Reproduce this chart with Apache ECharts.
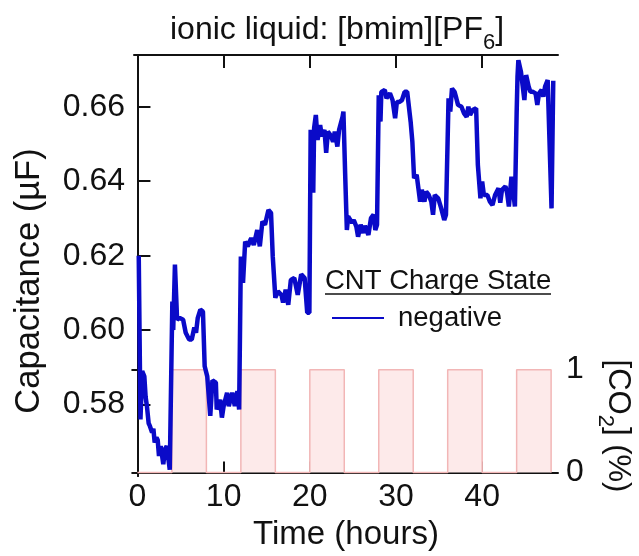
<!DOCTYPE html>
<html><head><meta charset="utf-8">
<script src="https://cdn.jsdelivr.net/npm/echarts@6/dist/echarts.min.js"></script>
<style>html,body{margin:0;padding:0;background:#fff}#c{width:639px;height:556px}</style>
</head><body><div id="c"></div>
<script>
const time = [0.15,0.35,0.55,0.8,0.95,1.1,1.3,1.45,1.7,1.85,2.0,2.2,2.35,2.5,2.7,2.85,3.0,3.2,3.4,3.55,3.75,3.98,4.05,4.15,4.35,4.6,4.9,5.3,5.6,6.0,6.3,6.6,6.8,7.0,7.3,7.6,7.8,8.1,8.3,8.45,8.7,9.1,9.2,9.6,9.8,10.0,10.4,10.6,11.0,11.3,11.6,11.8,12.0,12.25,12.5,12.8,13.2,13.5,13.9,14.2,14.5,14.8,15.2,15.5,15.7,16.0,16.3,16.7,16.9,17.2,17.5,17.8,18.2,18.6,19.0,19.4,19.7,19.95,20.1,20.4,20.5,20.7,20.9,21.2,21.4,21.7,21.9,22.1,22.4,22.7,22.9,23.2,23.4,23.8,23.9,24.1,24.3,24.45,24.7,24.9,25.1,25.4,25.6,25.9,26.2,26.4,26.8,27.1,27.4,27.6,27.8,28.0,28.2,28.3,28.7,28.9,29.3,29.6,29.9,30.1,30.4,30.7,31.0,31.3,31.7,31.9,32.1,32.4,32.6,32.8,33.0,33.3,33.5,33.8,34.1,34.3,34.5,34.9,35.25,35.6,35.8,36.1,36.3,36.5,36.8,37.0,37.2,37.6,37.9,38.2,38.4,38.6,38.9,39.1,39.3,39.5,39.8,40.0,40.2,40.6,40.9,41.2,41.5,41.9,42.1,42.3,42.7,42.9,43.1,43.4,43.6,43.8,44.0,44.1,44.2,44.5,44.7,44.9,45.1,45.4,45.6,45.9,46.2,46.4,46.6,46.9,47.1,47.3,47.6,47.75,48.05,48.25];
const capacitance = [0.620,0.576,0.589,0.5876,0.582,0.5796,0.575,0.5742,0.5725,0.5735,0.5698,0.5712,0.5705,0.5662,0.5689,0.5685,0.564,0.568,0.5689,0.5685,0.5625,0.5625,0.6077,0.600,0.6176,0.6028,0.6033,0.6028,0.5993,0.5975,0.5975,0.6007,0.5993,0.6033,0.6055,0.605,0.5903,0.5876,0.5875,0.577,0.5865,0.5859,0.5787,0.5813,0.5765,0.5796,0.5832,0.5796,0.5832,0.5796,0.5836,0.5787,0.6198,0.6127,0.6238,0.6225,0.6247,0.6229,0.6269,0.6225,0.6292,0.6283,0.6323,0.6315,0.6198,0.6087,0.6104,0.6095,0.6074,0.6109,0.6068,0.6135,0.614,0.6095,0.615,0.614,0.6047,0.6047,0.6538,0.6369,0.6543,0.6578,0.6511,0.6551,0.652,0.6538,0.6476,0.6533,0.6524,0.6506,0.6533,0.6493,0.6538,0.6573,0.6587,0.6421,0.6269,0.6305,0.6296,0.6288,0.6296,0.6278,0.6251,0.6283,0.6261,0.628,0.6256,0.6301,0.631,0.6269,0.6283,0.6631,0.656,0.664,0.6645,0.6623,0.6636,0.6618,0.6569,0.6613,0.6613,0.6618,0.664,0.664,0.656,0.6506,0.6408,0.6417,0.6381,0.6345,0.6377,0.6345,0.6372,0.6363,0.6345,0.631,0.6363,0.6354,0.6327,0.6296,0.631,0.6623,0.6587,0.6649,0.664,0.6623,0.6605,0.66,0.6582,0.6573,0.66,0.6578,0.6591,0.6591,0.6596,0.6444,0.6354,0.6399,0.6363,0.6363,0.6345,0.6336,0.6363,0.6381,0.6342,0.6377,0.6386,0.6368,0.6332,0.6412,0.6417,0.6332,0.6582,0.668,0.6725,0.6694,0.6698,0.6618,0.6685,0.6654,0.664,0.664,0.6636,0.6605,0.6636,0.6645,0.6627,0.6654,0.6672,0.6676,0.6327,0.667];
const co2Time = [0,4,4,8,8,12,12,16,16,20,20,24,24,28,28,32,32,36,36,40,40,44,44,48,48];
const co2Level = [0,0,1,1,0,0,1,1,0,0,1,1,0,0,1,1,0,0,1,1,0,0,1,1,0];
const xTicks = [0,10,20,30,40];
const yTicks = [0.58,0.60,0.62,0.64,0.66];
const co2Ticks = [0,1];

const FONT = '"Liberation Sans", Arial, sans-serif';
const chart = echarts.init(document.getElementById('c'), null, {renderer:'canvas'});
const capData = time.map((t,i)=>[t,capacitance[i]]);
const co2Data = co2Time.map((t,i)=>[t,co2Level[i]]);
const axisLine = {show:true, lineStyle:{color:'#111', width:2}};
chart.setOption({
  animation:false,
  backgroundColor:'#fff',
  title:{
    text:'{a|ionic liquid: [bmim][PF}{s|6}{a|]}',
    left:165, top:9,
    textStyle:{rich:{
      a:{fontFamily:FONT, fontSize:32, fontWeight:'normal', color:'#111', verticalAlign:'top', lineHeight:34},
      s:{fontFamily:FONT, fontSize:22, fontWeight:'normal', color:'#111', verticalAlign:'top', lineHeight:22, padding:[18,0,0,0]}
    }}
  },
  grid:{left:134, top:55, right:81, bottom:79, containLabel:false},
  legend:{
    data:['negative'], left:327, top:299, itemWidth:52, itemHeight:2, icon:'rect',
    textStyle:{fontFamily:FONT, fontSize:27.5, color:'#111', padding:[0,0,0,9]}
  },
  xAxis:[{
    type:'value', min:-0.4, max:48.8, position:'bottom',
    axisLine:axisLine, splitLine:{show:false},
    axisTick:{show:true, inside:true, length:11, customValues:xTicks, lineStyle:{color:'#111',width:2}},
    axisLabel:{customValues:xTicks, fontFamily:FONT, fontSize:32, color:'#111', margin:5},
    name:'Time (hours)', nameLocation:'middle', nameGap:38,
    nameTextStyle:{fontFamily:FONT, fontSize:33, color:'#111'}
  },{
    type:'value', min:-0.4, max:48.8, position:'top',
    axisLine:axisLine, splitLine:{show:false},
    axisTick:{show:true, inside:true, length:13, customValues:xTicks, lineStyle:{color:'#111',width:2}},
    axisLabel:{show:false}
  }],
  yAxis:[{
    type:'value', min:0.5608, max:0.6739, position:'left',
    axisLine:axisLine, splitLine:{show:false},
    axisTick:{show:true, inside:true, length:13, customValues:yTicks, lineStyle:{color:'#111',width:2}},
    axisLabel:{customValues:yTicks, formatter:v=>v.toFixed(2), fontFamily:FONT, fontSize:32, color:'#111', margin:9}
  },{
    type:'value', min:-0.035, max:4.06, position:'right',
    axisLine:axisLine, splitLine:{show:false},
    axisTick:{show:true, inside:true, length:6, customValues:co2Ticks, lineStyle:{color:'#111',width:2}},
    axisLabel:{customValues:co2Ticks, fontFamily:FONT, fontSize:32, color:'#111', margin:8}
  }],
  graphic:[
    {type:'text', x:29, y:281, rotation:Math.PI/2,
     style:{text:'Capacitance (µF)', font:'34.5px '+FONT, fill:'#111', align:'center', verticalAlign:'middle'}},
    {type:'text', x:617, y:426, rotation:-Math.PI/2,
     style:{text:'{a|[CO}{s|2}{a|] (%)}', fill:'#111', align:'center', verticalAlign:'middle',
       rich:{a:{fontFamily:FONT, fontSize:31, fill:'#111', verticalAlign:'top', lineHeight:33},
             s:{fontFamily:FONT, fontSize:22, fill:'#111', verticalAlign:'top', lineHeight:22, padding:[17,0,0,0]}}}},
    {type:'text', x:325, y:281,
     style:{text:'CNT Charge State', font:'27.5px '+FONT, fill:'#111', align:'left', verticalAlign:'middle'}},
    {type:'line', shape:{x1:325, y1:294, x2:551, y2:294}, style:{stroke:'#111', lineWidth:1.5}}
  ],
  series:[{
    name:'CO2', type:'line', xAxisIndex:0, yAxisIndex:1, data:co2Data, symbol:'none',
    lineStyle:{color:'#f2b6b6', width:1.5}, areaStyle:{color:'#fdeaea', opacity:1}, z:1
  },{
    name:'negative', type:'line', xAxisIndex:0, yAxisIndex:0, data:capData, symbol:'none',
    lineStyle:{color:'#0a0ac8', width:4.5}, itemStyle:{color:'#0a0ac8'}, z:3
  }]
});
</script></body></html>
